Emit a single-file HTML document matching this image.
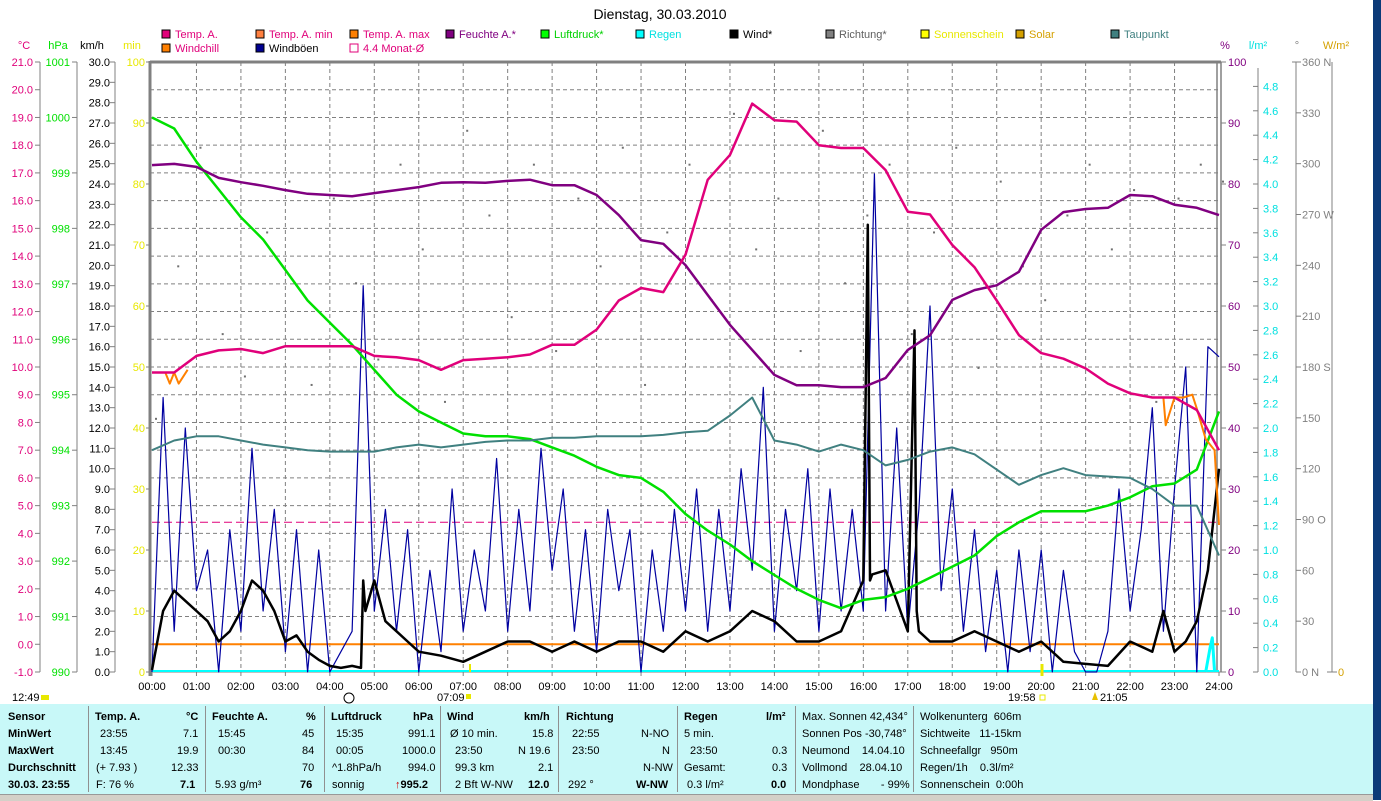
<!DOCTYPE html>
<html><head><meta charset="utf-8">
<style>
body{margin:0;width:1381px;height:800px;overflow:hidden;background:#fff;font-family:"Liberation Sans",sans-serif;position:relative}
svg{position:absolute;left:0;top:0}
.panel{position:absolute;left:0;top:704px;width:1373px;height:90px;background:#c8f8f8;font-size:11px;}
.c{position:absolute;white-space:nowrap}
.b{font-weight:bold}
.sep{position:absolute;top:2px;width:1px;height:86px;background:#909090}
</style></head><body>
<svg id="chart" width="1381" height="800"></svg>
<div style="position:absolute;left:1373px;top:0;width:8px;height:800px;background:#0b3a78"></div>
<div style="position:absolute;left:0;top:794px;width:1373px;height:6px;background:#d4d0c8;border-top:1px solid #999"></div>
<div class="panel">
 <div class="sep" style="left:88px"></div><div class="sep" style="left:205px"></div><div class="sep" style="left:324px"></div><div class="sep" style="left:440px"></div><div class="sep" style="left:558px"></div><div class="sep" style="left:677px"></div><div class="sep" style="left:795px"></div><div class="sep" style="left:913px"></div>
 <div class="c b" style="left:8px;top:7px">Sensor</div><div class="c b" style="left:8px;top:24px">MinWert</div><div class="c b" style="left:8px;top:41px">MaxWert</div><div class="c b" style="left:8px;top:58px">Durchschnitt</div><div class="c b" style="left:8px;top:75px">30.03. 23:55</div>
 <div class="c b" style="left:95px;top:7px">Temp. A.</div><div class="c b" style="left:186px;top:7px">°C</div>
 <div class="c" style="left:100px;top:24px">23:55</div><div class="c" style="left:183px;top:24px">7.1</div>
 <div class="c" style="left:100px;top:41px">13:45</div><div class="c" style="left:177px;top:41px">19.9</div>
 <div class="c" style="left:96px;top:58px">(+ 7.93 )</div><div class="c" style="left:171px;top:58px">12.33</div>
 <div class="c" style="left:96px;top:75px">F: 76 %</div><div class="c b" style="left:180px;top:75px">7.1</div>
 <div class="c b" style="left:212px;top:7px">Feuchte A.</div><div class="c b" style="left:306px;top:7px">%</div>
 <div class="c" style="left:218px;top:24px">15:45</div><div class="c" style="left:302px;top:24px">45</div>
 <div class="c" style="left:218px;top:41px">00:30</div><div class="c" style="left:302px;top:41px">84</div>
 <div class="c" style="left:302px;top:58px">70</div>
 <div class="c" style="left:215px;top:75px">5.93 g/m³</div><div class="c b" style="left:300px;top:75px">76</div>
 <div class="c b" style="left:331px;top:7px">Luftdruck</div><div class="c b" style="left:413px;top:7px">hPa</div>
 <div class="c" style="left:336px;top:24px">15:35</div><div class="c" style="left:408px;top:24px">991.1</div>
 <div class="c" style="left:336px;top:41px">00:05</div><div class="c" style="left:402px;top:41px">1000.0</div>
 <div class="c" style="left:332px;top:58px">^1.8hPa/h</div><div class="c" style="left:408px;top:58px">994.0</div>
 <div class="c" style="left:332px;top:75px">sonnig</div><div class="c b" style="left:395px;top:75px"><span style="color:#c00">↑</span>995.2</div>
 <div class="c b" style="left:447px;top:7px">Wind</div><div class="c b" style="left:524px;top:7px">km/h</div>
 <div class="c" style="left:450px;top:24px">Ø 10 min.</div><div class="c" style="left:532px;top:24px">15.8</div>
 <div class="c" style="left:455px;top:41px">23:50</div><div class="c" style="left:518px;top:41px">N 19.6</div>
 <div class="c" style="left:455px;top:58px">99.3 km</div><div class="c" style="left:538px;top:58px">2.1</div>
 <div class="c" style="left:455px;top:75px">2 Bft W-NW</div><div class="c b" style="left:528px;top:75px">12.0</div>
 <div class="c b" style="left:566px;top:7px">Richtung</div>
 <div class="c" style="left:572px;top:24px">22:55</div><div class="c" style="left:641px;top:24px">N-NO</div>
 <div class="c" style="left:572px;top:41px">23:50</div><div class="c" style="left:662px;top:41px">N</div>
 <div class="c" style="left:643px;top:58px">N-NW</div>
 <div class="c" style="left:568px;top:75px">292 °</div><div class="c b" style="left:636px;top:75px">W-NW</div>
 <div class="c b" style="left:684px;top:7px">Regen</div><div class="c b" style="left:766px;top:7px">l/m²</div>
 <div class="c" style="left:684px;top:24px">5 min.</div>
 <div class="c" style="left:690px;top:41px">23:50</div><div class="c" style="left:772px;top:41px">0.3</div>
 <div class="c" style="left:684px;top:58px">Gesamt:</div><div class="c" style="left:772px;top:58px">0.3</div>
 <div class="c" style="left:687px;top:75px">0.3 l/m²</div><div class="c b" style="left:771px;top:75px">0.0</div>
 <div class="c" style="left:802px;top:7px">Max. Sonnen 42,434°</div>
 <div class="c" style="left:802px;top:24px">Sonnen Pos -30,748°</div>
 <div class="c" style="left:802px;top:41px">Neumond &nbsp;&nbsp; 14.04.10</div>
 <div class="c" style="left:802px;top:58px">Vollmond &nbsp;&nbsp; 28.04.10</div>
 <div class="c" style="left:802px;top:75px">Mondphase &nbsp;&nbsp;&nbsp;&nbsp;&nbsp; - 99%</div>
 <div class="c" style="left:920px;top:7px">Wolkenunterg &nbsp;606m</div>
 <div class="c" style="left:920px;top:24px">Sichtweite &nbsp;&nbsp;11-15km</div>
 <div class="c" style="left:920px;top:41px">Schneefallgr &nbsp;&nbsp;950m</div>
 <div class="c" style="left:920px;top:58px">Regen/1h &nbsp;&nbsp;&nbsp;0.3l/m²</div>
 <div class="c" style="left:920px;top:75px">Sonnenschein &nbsp;0:00h</div>
</div>
<script>
const hours=[];for(let i=0;i<=48;i++)hours.push(i/2);
const tempVals=[9.8,9.8,10.4,10.6,10.65,10.5,10.75,10.75,10.75,10.75,10.4,10.35,10.25,9.9,10.25,10.3,10.35,10.45,10.8,10.8,11.35,12.4,12.85,12.7,14.05,16.75,17.65,19.5,18.9,18.85,18.0,17.9,17.9,17.1,15.6,15.5,14.4,13.6,12.4,11.15,10.5,10.3,9.95,9.4,9.05,8.9,8.9,8.45,7.0];
const humVals=[83.1,83.3,82.8,81,80.3,79.7,79,78.4,78.2,78,78.5,79,79.5,80.2,80.3,80.2,80.5,80.7,79.8,79.8,78.2,74.9,70.8,70.2,66.7,61.8,56.9,52.8,48.7,47,47,46.7,46.7,48.2,52.8,55.2,61,62.6,63.4,65.6,72.5,75.4,75.9,76.1,78.2,78,76.6,76.1,74.9];
const presVals=[1000.0,999.8,999.2,998.7,998.2,997.8,997.25,996.7,996.3,995.9,995.45,995.0,994.7,994.5,994.3,994.25,994.25,994.2,994.05,993.9,993.7,993.55,993.5,993.25,992.85,992.55,992.3,992.0,991.75,991.5,991.3,991.15,991.3,991.35,991.5,991.7,991.9,992.1,992.45,992.7,992.9,992.9,992.9,993.0,993.15,993.35,993.4,993.65,994.7];
const dewVals=[7.0,7.35,7.5,7.5,7.35,7.2,7.1,7.0,6.95,6.95,6.95,7.1,7.2,7.1,7.2,7.3,7.35,7.35,7.45,7.45,7.5,7.5,7.5,7.55,7.65,7.7,8.25,8.9,7.35,7.2,6.95,7.2,7.0,6.45,6.65,6.95,7.1,6.85,6.3,5.75,6.1,6.35,6.1,6.05,6.0,5.6,5.0,5.0,3.2];
const windT=[0,0.25,0.5,0.75,1,1.25,1.5,1.75,2,2.25,2.5,2.75,3,3.25,3.5,3.75,4,4.25,4.5,4.7,4.75,4.8,5,5.25,5.5,5.75,6,6.5,7,7.5,8,8.5,9,9.5,10,10.5,11,11.5,12,12.5,13,13.5,14,14.5,15,15.5,16,16.1,16.15,16.2,16.5,17,17.15,17.2,17.25,17.5,18,18.5,19,19.5,20,20.5,21,21.5,22,22.5,22.75,23,23.25,23.5,23.75,24];
const windV=[0.1,3.0,4.0,3.5,3.0,2.5,1.5,2.0,3.0,4.5,4.0,3.0,1.5,1.8,1.0,0.6,0.3,0.2,0.3,0.2,4.5,3.0,4.5,2.5,2.0,1.5,1.0,0.8,0.5,1.0,1.5,1.5,1.0,1.5,1.0,1.5,1.5,1.0,2.0,1.5,2.0,3.0,2.5,1.5,1.5,2.0,4.5,22,4.5,4.8,5.0,2.0,16.8,3.0,2.0,1.5,1.5,2.0,1.5,1.0,1.5,0.5,0.4,0.3,1.5,1.0,3.0,1.0,1.5,2.5,5.0,10.0];
const gustT=[];for(let i=0;i<=96;i++)gustT.push(i/4);
const gustV=[0,13.5,2,12,4,6,0,7,2,11,3,8,1,7,0,6,0,1,2,19,3,8,2,7,0,5,1,9,2,6,3,10.5,2,8,3,11,5,9,2,7,1,8,4,7,0,6,2,8,3,9,2,8,3,10,5,14,2,8,4,10,2,9,3,8,3,24.5,3,12,2,8,18,4,9,2,7,1,5,0,6,1,6,0,5,1,0,0,2,9,3,7,13,2,9,15,0,16,15.5];
const dirVals=[150,240,310,200,175,260,290,170,280,230,185,300,250,160,320,270,210,300,190,280,240,310,170,260,300,220,330,250,280,190,320,230,270,300,200,260,310,180,290,240,220,270,300,250,285,160,280,300,290];
const chillT1=[0,0.3,0.4,0.5,0.6,0.8];
const chillV1=[9.8,9.8,9.4,9.8,9.4,9.9];
const chillT2=[22.5,22.75,22.8,23.0,23.2,23.4,23.5,23.7,23.9,24];
const chillV2=[8.9,8.9,7.9,8.9,8.9,9.0,8.5,7.4,7.0,4.3];
const rainT=[23.7,23.8,23.85,23.9];
const rainV=[0,0.2,0.28,0];
const monthAvg=4.4;
const tempTicks=[];for(let i=21;i>=-1;i--)tempTicks.push(i);
const presTicks=[];for(let i=1001;i>=990;i--)presTicks.push(i);
const windTicks=[];for(let i=30;i>=0;i--)windTicks.push(i);
const minTicks=[100,90,80,70,60,50,40,30,20,10,0];
const humTicks=[100,90,80,70,60,50,40,30,20,10,0];
const rainTicks=[];for(let i=0;i<=24;i++)rainTicks.push(i/5);
const dirTicks=[0,30,60,90,120,150,180,210,240,270,300,330,360];
const dirNames={0:"N",90:"O",180:"S",270:"W",360:"N"};

const X0=152,X1=1219,Y0=62,Y1=672;
const x=h=>X0+h*(X1-X0)/24;
const yT=t=>Y0+(21-t)*(Y1-Y0)/22;
const yP=p=>Y0+(1001-p)*(Y1-Y0)/11;
const yW=v=>Y1-v*(Y1-Y0)/30;
const yH=v=>Y1-v*(Y1-Y0)/100;
const yR=v=>Y1-v*(Y1-Y0)/5;
const yD=v=>Y1-v*(Y1-Y0)/360;
const svg=document.getElementById('chart');const NS='http://www.w3.org/2000/svg';
function mk(tag,at,txt){const e=document.createElementNS(NS,tag);for(const k in at)e.setAttribute(k,at[k]);if(txt!==undefined)e.textContent=txt;svg.appendChild(e);return e;}
function line(x1,y1,x2,y2,st,w,dash){return mk('line',{x1,y1,x2,y2,stroke:st,'stroke-width':w||1,'stroke-dasharray':dash||'none'});}
function text(xx,yy,s,fill,anchor,size){return mk('text',{x:xx,y:yy,fill,'text-anchor':anchor||'start','font-size':size||11,'font-family':'Liberation Sans, sans-serif'},s);}

let e;
e=text(660,19,'Dienstag, 30.03.2010','#000','middle',14);


const leg=[['Temp. A.','#e0007a','#e0007a',162,38],['Temp. A. min','#ff8040','#e0007a',256,38],['Temp. A. max','#ff8000','#e0007a',350,38],['Feuchte A.*','#800080','#800080',446,38],['Luftdruck*','#00ff00','#00d000',541,38],['Regen','#00ffff','#00e0e0',636,38],['Wind*','#000','#000',730,38],['Richtung*','#808080','#606060',826,38],['Sonnenschein','#ffff00','#e8e800',921,38],['Solar','#d4a000','#d4a000',1016,38],['Taupunkt','#408080','#408080',1111,38],['Windchill','#ff8000','#e0007a',162,52],['Windböen','#000090','#000',256,52],['4.4 Monat-Ø','none','#e0007a',350,52]];
leg.forEach(l=>{
 const r=mk('rect',{x:l[3],y:l[4]-8,width:8,height:8,fill:l[1]==='none'?'#fff':l[1],stroke:l[1]==='none'?'#e0007a':'#000'});
 
 
 const t=text(l[3]+13,l[4],l[0],l[2]);
 
 
});
text(24,49,'°C','#e0007a','middle');text(58,49,'hPa','#00e000','middle');text(92,49,'km/h','#000','middle');text(132,49,'min','#e8e800','middle');
text(1225,49,'%','#800080','middle');text(1258,49,'l/m²','#00e0e0','middle');text(1297,49,'°','#808080','middle');text(1336,49,'W/m²','#d4a000','middle');
for(let h=1;h<24;h++)line(x(h),Y0,x(h),Y1,'#808080',1,'4,3');
tempTicks.forEach(t=>{if(t<21&&t>-1)line(X0-2,yT(t),X1,yT(t),'#808080',1,'4,3');});
line(40,Y0,40,Y1,'#808080');tempTicks.forEach(t=>{line(35,yT(t),40,yT(t),'#808080');text(33,yT(t)+4,t.toFixed(1),'#e0007a','end');});
line(77,Y0,77,Y1,'#808080');presTicks.forEach(p=>{line(72,yP(p),77,yP(p),'#808080');text(70,yP(p)+4,String(p),'#00e000','end');});
line(115,Y0,115,Y1,'#808080');windTicks.forEach(v=>{line(110,yW(v),115,yW(v),'#808080');text(110,yW(v)+4,v.toFixed(1),'#000','end');});
minTicks.forEach(v=>{line(146,yH(v),150,yH(v),'#808080');text(145,yH(v)+4,String(v),'#e8e800','end');});
line(150,Y0-1,150,Y1+4,'#808080',3);line(150,Y0,1221,Y0,'#808080',3);line(150,Y1,1221,Y1,'#808080',1);
line(1217,Y0,1217,Y1,'#808080',1.5);line(1221,Y0,1221,Y1,'#808080',1.5);
for(let h=0;h<=24;h++){line(x(h),Y1,x(h),Y1+4,'#808080');text(x(h),690,(h<10?'0':'')+h+':00','#000','middle');}
humTicks.forEach(v=>{line(1221,yH(v),1226,yH(v),'#808080');text(1228,yH(v)+4,String(v),'#800080');});
line(1258,Y0+6,1258,Y1,'#808080');rainTicks.forEach(v=>{line(1253,yR(v),1258,yR(v),'#808080');text(1263,yR(v)+4,v.toFixed(1),'#00e0e0');});
line(1296,Y0,1296,Y1,'#808080');line(1292,Y0,1296,Y0,'#808080');dirTicks.forEach(v=>{line(1296,yD(v),1301,yD(v),'#808080');text(1302,yD(v)+4,v+(dirNames[v]!==undefined?(v===0?'  ':' ')+dirNames[v]:''),'#808080');});
line(1332,Y0,1332,Y1,'#808080');line(1327,Y1,1337,Y1,'#808080');text(1338,Y1+4,'0','#d4a000');
e=line(X0,yT(0),X1,yT(0),'#ff8000',2);
e=line(X0,yT(monthAvg),X1,yT(monthAvg),'#e0007a',1,'8,4');
line(X0,Y1-1,X1,Y1-1,'#00ffff',2);
function poly(ts,vs,fx,fy,col,w,name){const p=ts.map((t,i)=>fx(t).toFixed(1)+','+fy(vs[i]).toFixed(1)).join(' ');const el=mk('polyline',{points:p,fill:'none',stroke:col,'stroke-width':w,'stroke-linejoin':'round'});return el;}
dirVals.forEach((d,i)=>{const c=mk('rect',{x:x(hours[i])+3,y:yD(d),width:2,height:2,fill:'#707070'});});
poly(gustT,gustV,x,yW,'#0000a0',1.2,'gust-line');
poly(windT,windV,x,yW,'#000',2.5,'wind-line');
poly(hours,presVals,x,yP,'#00e000',2.5,'pressure-line');
poly(hours,dewVals,x,yT,'#408080',2,'dewpoint-line');
poly(hours,humVals,x,yH,'#800080',2.5,'humidity-line');
poly(chillT1,chillV1,x,yT,'#ff8000',2,'windchill-line-start');
poly(chillT2,chillV2,x,yT,'#ff8000',2,'windchill-line-end');
poly(hours,tempVals,x,yT,'#e0007a',2.5,'temperature-line');
poly(rainT,rainV,x,yR,'#00ffff',3,'rain-bar');
text(12,701,'12:49','#000');mk('rect',{x:41,y:695,width:8,height:5,fill:'#e8e800'});
mk('circle',{cx:349,cy:698,r:5,fill:'none',stroke:'#000'});
text(437,701,'07:09','#000');mk('rect',{x:466,y:694,width:5,height:5,fill:'#e8e800'});line(470,Y1-8,470,Y1,'#e8e800',2);
text(1008,701,'19:58','#000');mk('rect',{x:1040,y:695,width:5,height:5,fill:'none',stroke:'#e8e800'});line(1042,Y1-8,1042,Y1+4,'#e8e800',3);
text(1100,701,'21:05','#000');mk('path',{d:'M1092 700 L1095 692 L1098 700 Z',fill:'#e8c000'});
</script>
</body></html>
